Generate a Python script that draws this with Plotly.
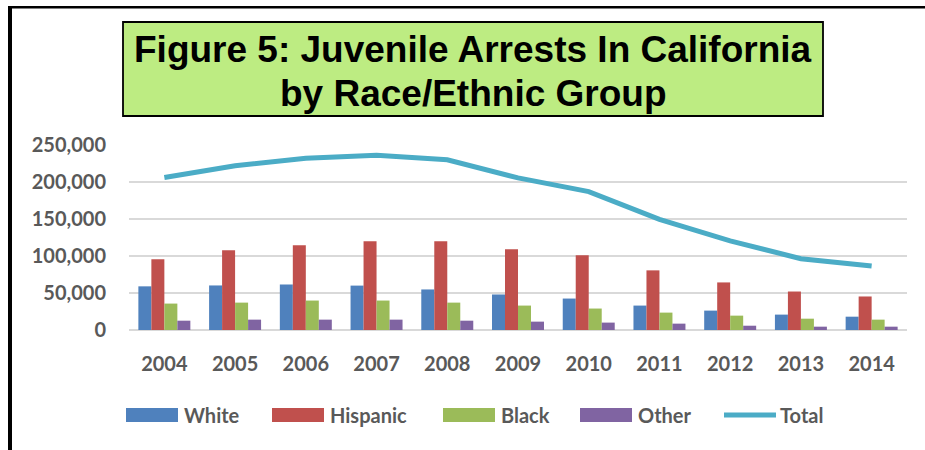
import plotly.graph_objects as go

years = ["2004", "2005", "2006", "2007", "2008", "2009", "2010", "2011", "2012", "2013", "2014"]
white = [59000, 60200, 61500, 60000, 54800, 48000, 42500, 33000, 26200, 20800, 18000]
hispanic = [95500, 107700, 114500, 120000, 120000, 109000, 101000, 80600, 64300, 52000, 45300]
black = [35700, 37000, 39800, 39800, 37000, 33000, 29000, 23500, 19400, 15300, 14000]
other = [12600, 14000, 14000, 14000, 12600, 11300, 10000, 8600, 5800, 4500, 4500]
total = [206000, 222000, 232000, 236000, 230000, 205600, 187000, 149500, 120400, 96400, 86400]

series_names = ["White", "Hispanic", "Black", "Other"]
series_values = [white, hispanic, black, other]
colors = ["#4F81BD", "#C0504D", "#9BBB59", "#8064A2"]
total_color = "#4BACC6"
title_lines = ["Figure 5: Juvenile Arrests In California", "by Race/Ethnic Group"]

W, H = 925, 450
ML, MR, MT, MB = 129, 18, 145, 120
PW, PH = W - ML - MR, H - MT - MB


def fx(p):
    return (p - ML) / PW


def fy(p):
    return (H - MB - p) / PH


fig = go.Figure()
for name, vals, col in zip(series_names, series_values, colors):
    fig.add_trace(go.Bar(x=years, y=vals, name=name, marker=dict(color=col, line=dict(width=0)),
                         showlegend=False))
fig.add_trace(go.Scatter(x=years, y=total, name="Total", mode="lines",
                         line=dict(color=total_color, width=5), showlegend=False))

tick_font = dict(family="Lato, Carlito, sans-serif", size=20, color="#595959", weight="bold")

shapes = []
annotations = []

# page border (left and top thick black lines)
shapes.append(dict(type="rect", xref="paper", yref="paper", x0=fx(8), x1=fx(12), y0=fy(6), y1=fy(452),
                   fillcolor="black", line=dict(width=0), layer="above"))
shapes.append(dict(type="rect", xref="paper", yref="paper", x0=fx(8), x1=fx(927), y0=fy(6), y1=fy(8.5),
                   fillcolor="black", line=dict(width=0), layer="above"))

# title box
shapes.append(dict(type="rect", xref="paper", yref="paper", x0=fx(123), x1=fx(823), y0=fy(22), y1=fy(116),
                   fillcolor="#BDEC82", line=dict(color="black", width=1.8), layer="above"))
for line_text, cy in zip(title_lines, [49, 93]):
    annotations.append(dict(text="<b>" + line_text + "</b>", xref="paper", yref="paper",
                            x=fx(473), y=fy(cy), xanchor="center", yanchor="middle", showarrow=False,
                            font=dict(family="Liberation Sans, Arial, sans-serif", size=37, color="black")))

# custom legend
leg_y = 415
legend_entries = list(zip(series_names, colors)) + [("Total", total_color)]
swatch_x = [126, 272, 443, 580, 722]
for (name, col), sx in zip(legend_entries, swatch_x):
    if name == "Total":
        shapes.append(dict(type="line", xref="paper", yref="paper", x0=fx(sx + 2), x1=fx(sx + 54),
                           y0=fy(leg_y), y1=fy(leg_y), line=dict(color=col, width=5)))
    else:
        shapes.append(dict(type="rect", xref="paper", yref="paper", x0=fx(sx), x1=fx(sx + 52),
                           y0=fy(leg_y - 7), y1=fy(leg_y + 7), fillcolor=col, line=dict(width=0)))
    annotations.append(dict(text=name, xref="paper", yref="paper", x=fx(sx + 56), y=fy(leg_y),
                            xanchor="left", yanchor="middle", showarrow=False, font=tick_font))

fig.update_layout(
    width=W, height=H,
    margin=dict(l=ML, r=MR, t=MT, b=MB, autoexpand=False),
    paper_bgcolor="white", plot_bgcolor="white",
    barmode="group", bargap=0.265, bargroupgap=0,
    shapes=shapes, annotations=annotations,
    showlegend=False,
    xaxis=dict(type="category", showgrid=False, showline=False, zeroline=False,
               tickfont=tick_font, ticks="", ticklabelstandoff=20, fixedrange=True),
    yaxis=dict(range=[0, 250000], dtick=50000, tickformat=",", showgrid=True,
               gridcolor="#D9D9D9", gridwidth=2, zeroline=True, zerolinecolor="#D9D9D9",
               zerolinewidth=2, showline=False, ticks="", tickfont=tick_font,
               ticklabelstandoff=22, fixedrange=True),
)

fig.write_html("out.html",
               config={"displayModeBar": False},
               post_script="document.body.style.margin='0';document.body.style.overflow='hidden';")
